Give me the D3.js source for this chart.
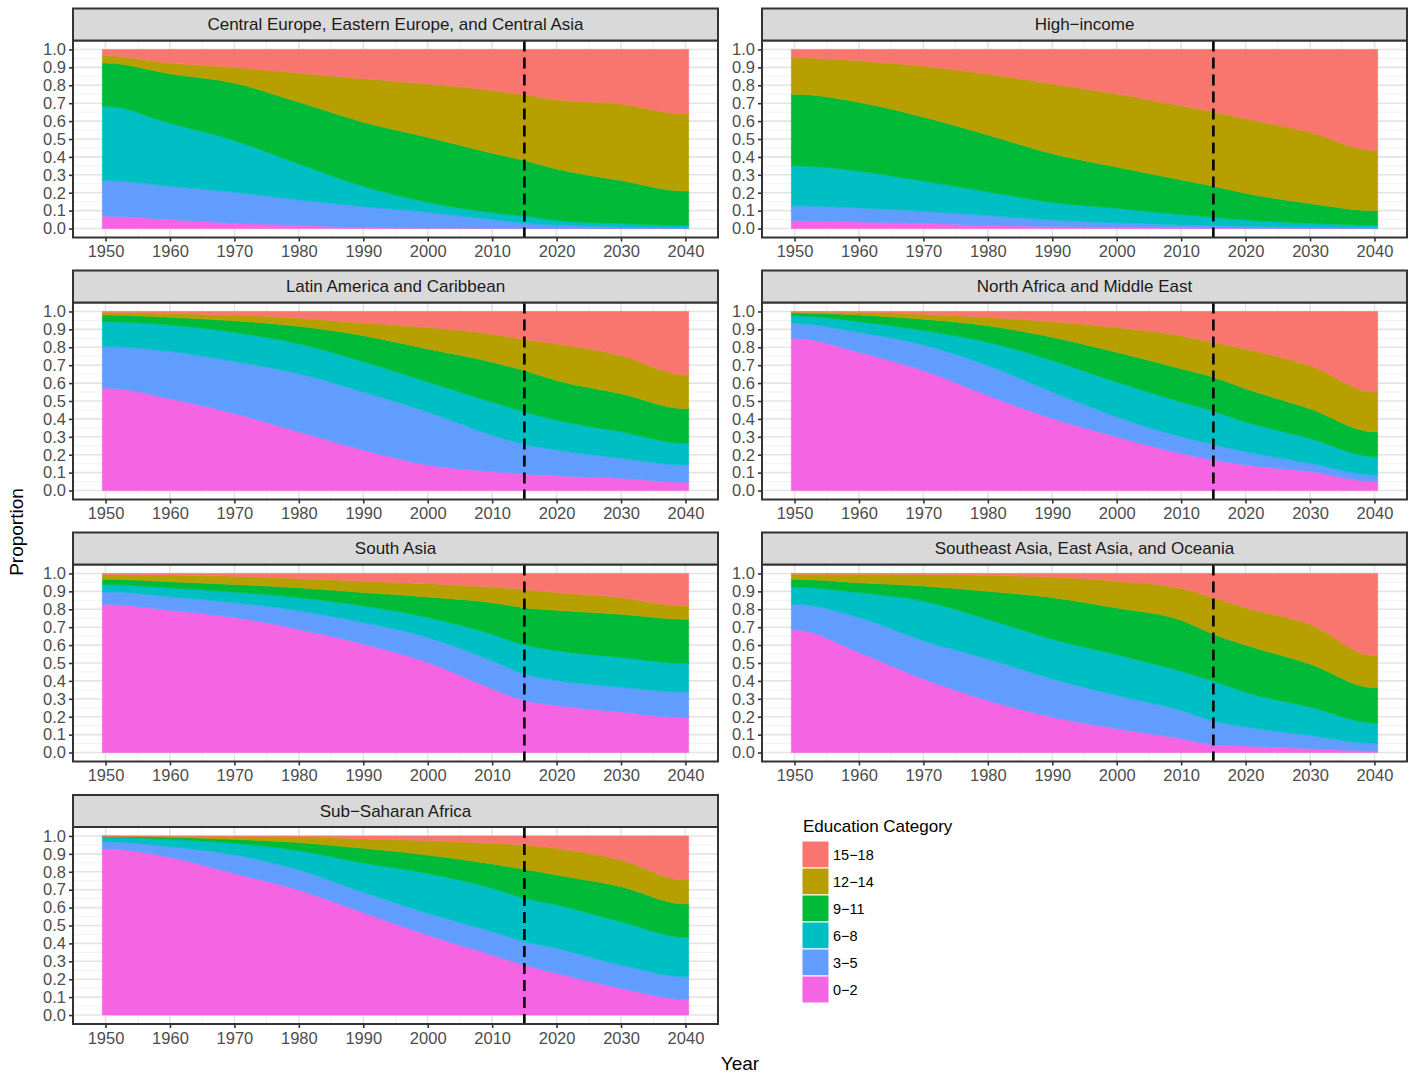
<!DOCTYPE html>
<html>
<head>
<meta charset="utf-8">
<script src="https://cdn.jsdelivr.net/npm/d3@7"></script>
<style>
  html, body { margin: 0; padding: 0; background: #ffffff; }
  svg { display: block; font-family: "Liberation Sans", Arial, Helvetica, sans-serif; }
</style>
</head>
<body>
<svg id="chart" width="1411" height="1076"></svg>
<script>
// Years at which the education shares are given
const years = [1950, 1960, 1970, 1980, 1990, 2000, 2010, 2015, 2020, 2030, 2040];

// Education categories (years of schooling), bottom of the stack first
const categories = ["0\u22122", "3\u22125", "6\u22128", "9\u221211", "12\u221214", "15\u221218"];
const categoryColors = ["#F564E3", "#619CFF", "#00BFC4", "#00BA38", "#B79F00", "#F8766D"];

// Axis breaks
const yearTicks = [1950, 1960, 1970, 1980, 1990, 2000, 2010, 2020, 2030, 2040];
const proportionTicks = [0, 0.1, 0.2, 0.3, 0.4, 0.5, 0.6, 0.7, 0.8, 0.9, 1.0];
const projectionStart = 2015;

// Share of the population in each category, one row per category (0–2 ... 15–18)
const sharesCentralEurope = [
  [0.069, 0.050, 0.030, 0.020, 0.006, 0.003, 0.002, 0.001, 0.001, 0.000, 0.000],
  [0.199, 0.186, 0.173, 0.140, 0.117, 0.088, 0.048, 0.029, 0.019, 0.009, 0.004],
  [0.415, 0.352, 0.289, 0.201, 0.113, 0.056, 0.038, 0.040, 0.025, 0.019, 0.013],
  [0.241, 0.276, 0.320, 0.345, 0.358, 0.363, 0.333, 0.310, 0.288, 0.240, 0.192],
  [0.041, 0.060, 0.088, 0.162, 0.242, 0.298, 0.350, 0.367, 0.386, 0.428, 0.431],
  [0.035, 0.076, 0.100, 0.132, 0.164, 0.192, 0.229, 0.253, 0.281, 0.304, 0.360]
];
const sharesHighIncome = [
  [0.045, 0.037, 0.030, 0.019, 0.011, 0.006, 0.004, 0.003, 0.002, 0.001, 0.001],
  [0.082, 0.078, 0.067, 0.054, 0.036, 0.026, 0.016, 0.013, 0.011, 0.006, 0.003],
  [0.223, 0.205, 0.168, 0.132, 0.099, 0.082, 0.058, 0.047, 0.035, 0.023, 0.016],
  [0.400, 0.385, 0.358, 0.318, 0.272, 0.229, 0.194, 0.173, 0.149, 0.110, 0.080],
  [0.204, 0.232, 0.284, 0.340, 0.390, 0.409, 0.413, 0.416, 0.416, 0.398, 0.336],
  [0.046, 0.063, 0.093, 0.137, 0.192, 0.248, 0.315, 0.348, 0.387, 0.462, 0.564]
];
const sharesLatinAmerica = [
  [0.572, 0.513, 0.430, 0.328, 0.226, 0.143, 0.106, 0.093, 0.083, 0.069, 0.046],
  [0.232, 0.263, 0.290, 0.324, 0.324, 0.296, 0.203, 0.164, 0.143, 0.111, 0.097],
  [0.139, 0.148, 0.163, 0.167, 0.170, 0.167, 0.185, 0.182, 0.167, 0.148, 0.120],
  [0.037, 0.043, 0.065, 0.098, 0.145, 0.185, 0.223, 0.231, 0.222, 0.213, 0.194],
  [0.014, 0.022, 0.032, 0.046, 0.070, 0.120, 0.157, 0.173, 0.204, 0.213, 0.189],
  [0.006, 0.011, 0.020, 0.037, 0.065, 0.089, 0.126, 0.157, 0.181, 0.246, 0.354]
];
const sharesNorthAfrica = [
  [0.850, 0.772, 0.670, 0.531, 0.402, 0.300, 0.207, 0.170, 0.143, 0.106, 0.050],
  [0.083, 0.111, 0.143, 0.167, 0.148, 0.111, 0.093, 0.087, 0.074, 0.046, 0.037],
  [0.043, 0.060, 0.080, 0.130, 0.176, 0.195, 0.194, 0.186, 0.166, 0.139, 0.102],
  [0.015, 0.037, 0.064, 0.092, 0.130, 0.166, 0.186, 0.190, 0.186, 0.166, 0.139],
  [0.005, 0.014, 0.028, 0.047, 0.087, 0.139, 0.185, 0.195, 0.222, 0.241, 0.222],
  [0.004, 0.006, 0.015, 0.033, 0.057, 0.089, 0.135, 0.172, 0.209, 0.302, 0.450]
];
const sharesSouthAsia = [
  [0.828, 0.794, 0.754, 0.689, 0.606, 0.504, 0.356, 0.291, 0.263, 0.226, 0.194],
  [0.070, 0.076, 0.083, 0.102, 0.120, 0.139, 0.157, 0.148, 0.139, 0.139, 0.143],
  [0.041, 0.050, 0.059, 0.074, 0.093, 0.111, 0.148, 0.161, 0.167, 0.166, 0.161],
  [0.028, 0.034, 0.043, 0.055, 0.074, 0.115, 0.176, 0.209, 0.225, 0.241, 0.246],
  [0.027, 0.037, 0.046, 0.052, 0.064, 0.074, 0.087, 0.102, 0.099, 0.093, 0.075],
  [0.006, 0.009, 0.015, 0.028, 0.043, 0.057, 0.076, 0.089, 0.107, 0.135, 0.181]
];
const sharesSoutheastAsia = [
  [0.685, 0.559, 0.411, 0.291, 0.198, 0.133, 0.078, 0.044, 0.037, 0.022, 0.009],
  [0.143, 0.195, 0.213, 0.231, 0.213, 0.186, 0.157, 0.132, 0.106, 0.074, 0.041],
  [0.096, 0.139, 0.222, 0.222, 0.222, 0.227, 0.219, 0.222, 0.194, 0.158, 0.115],
  [0.043, 0.055, 0.084, 0.156, 0.232, 0.261, 0.285, 0.263, 0.263, 0.240, 0.196],
  [0.029, 0.048, 0.064, 0.089, 0.115, 0.150, 0.178, 0.204, 0.209, 0.223, 0.180],
  [0.004, 0.004, 0.006, 0.011, 0.020, 0.043, 0.083, 0.135, 0.191, 0.283, 0.459]
];
const sharesSubSaharan = [
  [0.927, 0.881, 0.790, 0.698, 0.572, 0.447, 0.335, 0.279, 0.233, 0.149, 0.088],
  [0.041, 0.059, 0.104, 0.112, 0.113, 0.121, 0.131, 0.131, 0.139, 0.130, 0.126],
  [0.025, 0.041, 0.065, 0.108, 0.164, 0.223, 0.242, 0.242, 0.243, 0.242, 0.220],
  [0.005, 0.012, 0.022, 0.045, 0.082, 0.103, 0.136, 0.162, 0.167, 0.196, 0.186],
  [0.001, 0.005, 0.016, 0.032, 0.052, 0.080, 0.115, 0.136, 0.149, 0.149, 0.134],
  [0.001, 0.002, 0.003, 0.005, 0.017, 0.026, 0.041, 0.050, 0.069, 0.134, 0.246]
];

const regions = [
  { name: "Central Europe, Eastern Europe, and Central Asia", shares: sharesCentralEurope },
  { name: "High\u2212income", shares: sharesHighIncome },
  { name: "Latin America and Caribbean", shares: sharesLatinAmerica },
  { name: "North Africa and Middle East", shares: sharesNorthAfrica },
  { name: "South Asia", shares: sharesSouthAsia },
  { name: "Southeast Asia, East Asia, and Oceania", shares: sharesSoutheastAsia },
  { name: "Sub\u2212Saharan Africa", shares: sharesSubSaharan }
];

// ---- layout ----
const svg = d3.select("#chart");
const colLeft = [73, 762];
const panelW = 645;
const rowTop = [40.5, 302.5, 564.5, 827];
const panelH = 197;
const stripH = 32;
const textGrey = "#4D4D4D";
const frame = "#333333";

// Each yearly bar is one year wide, so the bands run half a year past the end points
const xExtent = [years[0] - 0.5, years[years.length - 1] + 0.5];
const xPad = (xExtent[1] - xExtent[0]) * 0.05;
const yPad = 0.05;

regions.forEach((region, idx) => {
  const col = idx % 2;
  const row = Math.floor(idx / 2);
  const left = colLeft[col];
  const top = rowTop[row];

  const x = d3.scaleLinear()
    .domain([xExtent[0] - xPad, xExtent[1] + xPad])
    .range([left, left + panelW]);
  const y = d3.scaleLinear()
    .domain([-yPad, 1 + yPad])
    .range([top + panelH, top]);

  const g = svg.append("g");

  // panel background
  g.append("rect")
    .attr("x", left).attr("y", top)
    .attr("width", panelW).attr("height", panelH)
    .attr("fill", "#ffffff");

  // minor grid
  const minorY = d3.range(0.05, 1.0, 0.1);
  const minorX = d3.range(1955, 2040, 10);
  g.selectAll(".minor-y").data(minorY).join("line")
    .attr("x1", left).attr("x2", left + panelW)
    .attr("y1", d => y(d)).attr("y2", d => y(d))
    .attr("stroke", "#EFEFEF").attr("stroke-width", 0.9);
  g.selectAll(".minor-x").data(minorX).join("line")
    .attr("y1", top).attr("y2", top + panelH)
    .attr("x1", d => x(d)).attr("x2", d => x(d))
    .attr("stroke", "#EFEFEF").attr("stroke-width", 0.9);

  // major grid
  g.selectAll(".major-y").data(proportionTicks).join("line")
    .attr("x1", left).attr("x2", left + panelW)
    .attr("y1", d => y(d)).attr("y2", d => y(d))
    .attr("stroke", "#E4E4E4").attr("stroke-width", 1.6);
  g.selectAll(".major-x").data(yearTicks).join("line")
    .attr("y1", top).attr("y2", top + panelH)
    .attr("x1", d => x(d)).attr("x2", d => x(d))
    .attr("stroke", "#E4E4E4").attr("stroke-width", 1.6);

  // stacked shares
  const rows = years.map((yr, i) => {
    const r = { year: yr };
    region.shares.forEach((s, k) => { r[k] = s[i]; });
    return r;
  });
  const padded = [Object.assign({}, rows[0], { year: xExtent[0] }), ...rows,
                  Object.assign({}, rows[rows.length - 1], { year: xExtent[1] })];

  const stacked = d3.stack()
    .keys(d3.range(categories.length))
    .offset(d3.stackOffsetExpand)(padded);

  const area = d3.area()
    .x(d => x(d.data.year))
    .y0(d => y(d[0]))
    .y1(d => y(d[1]))
    .curve(d3.curveMonotoneX);

  g.selectAll(".band").data(stacked).join("path")
    .attr("d", area)
    .attr("fill", (d, i) => categoryColors[i])
    .attr("stroke", (d, i) => categoryColors[i])
    .attr("stroke-width", 0.6);

  // start of the projection period
  g.append("line")
    .attr("x1", x(projectionStart)).attr("x2", x(projectionStart))
    .attr("y1", top).attr("y2", top + panelH)
    .attr("stroke", "#000000").attr("stroke-width", 2.6)
    .attr("stroke-dasharray", "11,6");

  // panel border
  g.append("rect")
    .attr("x", left).attr("y", top)
    .attr("width", panelW).attr("height", panelH)
    .attr("fill", "none").attr("stroke", frame).attr("stroke-width", 2);

  // strip
  g.append("rect")
    .attr("x", left).attr("y", top - stripH)
    .attr("width", panelW).attr("height", stripH)
    .attr("fill", "#D9D9D9").attr("stroke", frame).attr("stroke-width", 2);
  g.append("text")
    .attr("x", left + panelW / 2).attr("y", top - stripH / 2)
    .attr("dy", "0.35em")
    .attr("text-anchor", "middle")
    .attr("font-size", 17)
    .attr("fill", "#1A1A1A")
    .text(region.name);

  // y axis
  const yAxis = d3.axisLeft(y).tickValues(proportionTicks)
    .tickFormat(d3.format(".1f")).tickSize(4).tickPadding(3);
  const ya = g.append("g").attr("transform", `translate(${left},0)`).call(yAxis);
  ya.select(".domain").remove();
  ya.selectAll(".tick line").attr("stroke", frame).attr("stroke-width", 1.6);
  ya.selectAll(".tick text").attr("fill", textGrey).attr("font-size", 16.5)
    .attr("font-family", "Liberation Sans, Arial, sans-serif");

  // x axis
  const xAxis = d3.axisBottom(x).tickValues(yearTicks)
    .tickFormat(d3.format("d")).tickSize(4).tickPadding(4);
  const xa = g.append("g").attr("transform", `translate(0,${top + panelH})`).call(xAxis);
  xa.select(".domain").remove();
  xa.selectAll(".tick line").attr("stroke", frame).attr("stroke-width", 1.6);
  xa.selectAll(".tick text").attr("fill", textGrey).attr("font-size", 16.5)
    .attr("font-family", "Liberation Sans, Arial, sans-serif");
});

// axis titles
svg.append("text")
  .attr("transform", "translate(23,532) rotate(-90)")
  .attr("text-anchor", "middle")
  .attr("font-size", 19)
  .attr("fill", "#000000")
  .text("Proportion");
svg.append("text")
  .attr("x", 740).attr("y", 1070)
  .attr("text-anchor", "middle")
  .attr("font-size", 19)
  .attr("fill", "#000000")
  .text("Year");

// legend
const legend = svg.append("g").attr("transform", "translate(802,841)");
legend.append("text")
  .attr("x", 1).attr("y", -9)
  .attr("font-size", 17)
  .attr("fill", "#000000")
  .text("Education Category");
const legendOrder = d3.range(categories.length).reverse();
const keySize = 27;
legend.selectAll(".key").data(legendOrder).join("rect")
  .attr("x", 0)
  .attr("y", (d, i) => i * keySize)
  .attr("width", keySize).attr("height", keySize)
  .attr("fill", d => categoryColors[d])
  .attr("stroke", "#ffffff").attr("stroke-width", 1);
legend.selectAll(".label").data(legendOrder).join("text")
  .attr("x", keySize + 4)
  .attr("y", (d, i) => i * keySize + keySize / 2)
  .attr("dy", "0.35em")
  .attr("font-size", 14.5)
  .attr("fill", "#000000")
  .text(d => categories[d]);
</script>
</body>
</html>
